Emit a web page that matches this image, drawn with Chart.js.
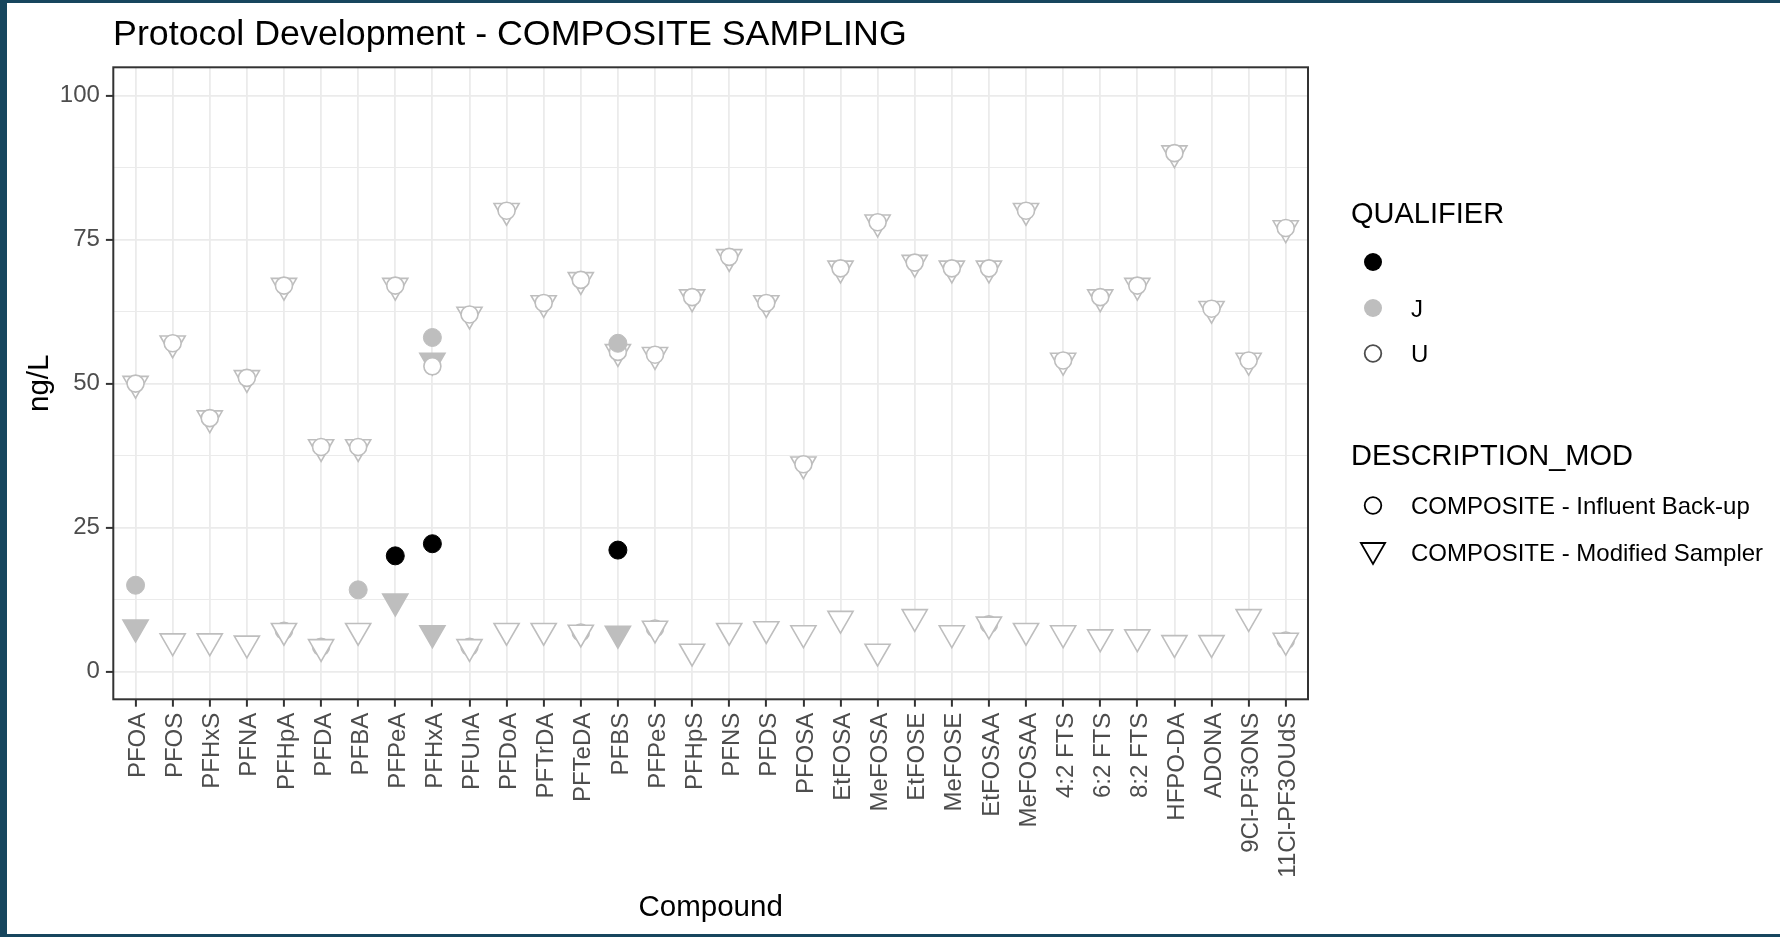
<!DOCTYPE html>
<html><head><meta charset="utf-8">
<script src="https://cdn.jsdelivr.net/npm/chart.js@4.4.0/dist/chart.umd.min.js"></script>
<style>
html,body{margin:0;padding:0;background:#17465E;width:1780px;height:937px;overflow:hidden;font-family:'Liberation Sans',Arial,sans-serif;}
#frame{position:absolute;left:7px;top:3px;width:1773px;height:931px;background:#fff;}
#wrap{position:absolute;left:0;top:0;width:1780px;height:937px;}
.t{position:absolute;white-space:nowrap;color:#000;font-family:'Liberation Sans',Arial,sans-serif;}
#keys{position:absolute;left:1340px;top:240px;}
</style></head><body>
<div id="frame"></div>
<div id="wrap"><canvas id="c" width="1780" height="937" style="width:1780px;height:937px;"></canvas></div>
<div class="t" style="left:113px;top:16px;font-size:35.8px;line-height:35.8px;">Protocol Development - COMPOSITE SAMPLING</div>
<div class="t" style="left:1351px;top:199px;font-size:29px;line-height:29px;">QUALIFIER</div>
<div class="t" style="left:1411px;top:297px;font-size:24px;line-height:24px;">J</div>
<div class="t" style="left:1411px;top:342px;font-size:24px;line-height:24px;">U</div>
<div class="t" style="left:1351px;top:441px;font-size:29px;line-height:29px;">DESCRIPTION_MOD</div>
<div class="t" style="left:1411px;top:494px;font-size:24px;line-height:24px;">COMPOSITE - Influent Back-up</div>
<div class="t" style="left:1411px;top:541px;font-size:24px;line-height:24px;">COMPOSITE - Modified Sampler</div>
<svg id="keys" width="60" height="340" xmlns="http://www.w3.org/2000/svg">
  <circle cx="33" cy="22" r="9" fill="#000"/>
  <circle cx="33" cy="68" r="9" fill="#BEBEBE"/>
  <circle cx="33" cy="113.5" r="8.3" fill="#fff" stroke="#4D4D4D" stroke-width="1.8"/>
  <circle cx="33" cy="265.5" r="8.3" fill="none" stroke="#000" stroke-width="1.8"/>
  <polygon points="20.9,303 45.1,303 33,324" fill="none" stroke="#000" stroke-width="1.8"/>
</svg>
<script>
const compounds = ["PFOA","PFOS","PFHxS","PFNA","PFHpA","PFDA","PFBA","PFPeA",
  "PFHxA","PFUnA","PFDoA","PFTrDA","PFTeDA","PFBS","PFPeS","PFHpS",
  "PFNS","PFDS","PFOSA","EtFOSA","MeFOSA","EtFOSE","MeFOSE","EtFOSAA",
  "MeFOSAA","4:2 FTS","6:2 FTS","8:2 FTS","HFPO-DA","ADONA","9Cl-PF3ONS","11Cl-PF3OUdS"];
const yTicks = [0, 12.5, 25, 37.5, 50, 62.5, 75, 87.5, 100];

// COMPOSITE - Influent Back-up (circles)
const influentU = [50,57,44,51,67,39,39,67,
  53,62,80,64,68,55.5,55,65,
  72,64,36,70,78,71,70,70,
  80,54,65,67,90,63,54,77];
const influentULow = [null,null,null,null,7.1,4.3,null,null,
  null,4.3,null,null,6.8,null,7.5,null,
  null,null,null,null,null,null,null,8.2,
  null,null,null,null,null,null,null,5.4];
const influentJ = [15,null,null,null,null,null,14.2,null,
  58,null,null,null,null,57,null,null,
  null,null,null,null,null,null,null,null,
  null,null,null,null,null,null,null,null];
const influentDetect = [null,null,null,null,null,null,null,20.1,
  22.2,null,null,null,null,21.1,null,null,
  null,null,null,null,null,null,null,null,
  null,null,null,null,null,null,null,null];

// COMPOSITE - Modified Sampler (triangles)
const modifiedU = [50,57,44,51,67,39,39,67,
  null,62,80,64,68,55.5,55,65,
  72,64,36,70,78,71,70,70,
  80,54,65,67,90,63,54,77];
const modifiedULow = [null,5.3,5.3,4.9,7.1,4.3,7.1,null,
  null,4.3,7.1,7.1,6.8,null,7.5,3.5,
  7.1,7.4,6.7,9.2,3.5,9.5,6.7,8.2,
  7.1,6.7,6.0,6.0,5.0,5.0,9.5,5.4];
const modifiedJ = [7.7,null,null,null,null,null,null,12.2,
  6.7,null,null,null,null,6.6,null,null,
  null,null,null,null,null,null,null,null,
  null,null,null,null,null,null,null,null];
const modifiedJHigh = [null,null,null,null,null,null,null,null,
  54,null,null,null,null,null,null,null,
  null,null,null,null,null,null,null,null,
  null,null,null,null,null,null,null,null];

const pts = arr => arr.map((v, i) => v == null ? null : {x: i, y: v}).filter(p => p);
const GREY = '#BEBEBE';
const FONT = "'Liberation Sans', Arial, sans-serif";

function tri(data, fill, order) {
  return {data: pts(data), pointStyle: 'triangle', rotation: 180, pointRadius: 14.5,
    backgroundColor: fill, borderColor: GREY, pointBorderWidth: 1.6, order: order, showLine: false};
}
function circ(data, fill, border, r, bw, order) {
  return {data: pts(data), pointStyle: 'circle', pointRadius: r,
    backgroundColor: fill, borderColor: border, pointBorderWidth: bw, order: order, showLine: false};
}

const panelBorder = {
  id: 'panelBorder',
  afterDraw(chart) {
    const {ctx, chartArea: a} = chart;
    ctx.save();
    ctx.strokeStyle = '#333333';
    ctx.lineWidth = 2;
    ctx.strokeRect(a.left, a.top, a.right - a.left, a.bottom - a.top);
    ctx.restore();
  }
};

new Chart(document.getElementById('c'), {
  type: 'scatter',
  data: {
    datasets: [
      circ(influentDetect, '#000000', '#000000', 9, 1, 0),
      circ(influentJ, GREY, GREY, 9, 1, 0),
      circ(influentU, '#FFFFFF', GREY, 8.5, 1.6, 1),
      tri(modifiedJHigh, GREY, 2),
      tri(modifiedU, '#FFFFFF', 2),
      tri(modifiedJ, GREY, 2),
      tri(modifiedULow, '#FFFFFF', 2),
      circ(influentULow, '#FFFFFF', GREY, 8.5, 1.6, 3)
    ]
  },
  options: {
    responsive: false,
    animation: false,
    events: [],
    layout: {padding: {left: 0, right: 472, top: 67.3, bottom: 0}},
    plugins: {legend: {display: false}, title: {display: false}, tooltip: {enabled: false}},
    scales: {
      x: {
        type: 'linear', min: -0.6, max: 31.6,
        afterBuildTicks: s => { s.ticks = compounds.map((c, i) => ({value: i})); },
        afterFit: s => { s.height = 237.7; },
        ticks: {
          autoSkip: false, minRotation: 90, maxRotation: 90, padding: 6, labelOffset: 3,
          color: '#4D4D4D', font: {family: FONT, size: 24},
          callback: v => compounds[v]
        },
        grid: {color: '#EBEBEB', lineWidth: 1.8, tickLength: 7.4, tickColor: '#333333', tickWidth: 2},
        border: {display: false},
        title: {display: true, text: 'Compound', color: '#000', font: {family: FONT, size: 29.5}, padding: {top: 0, bottom: 11}}
      },
      y: {
        type: 'linear', min: -4.8, max: 104.9,
        afterBuildTicks: s => { s.ticks = yTicks.map(v => ({value: v})); },
        afterFit: s => { s.width = 113.3; },
        ticks: {
          padding: 6, color: '#4D4D4D', font: {family: FONT, size: 24},
          callback: v => (v % 25 === 0 ? String(v) : '')
        },
        grid: {
          color: '#EBEBEB',
          lineWidth: c => (c.tick && c.tick.value % 25 === 0 ? 1.8 : 1.1),
          tickLength: 7.4,
          tickColor: c => (c.tick && c.tick.value % 25 === 0 ? '#333333' : 'rgba(0,0,0,0)'),
          tickWidth: 2
        },
        border: {display: false},
        title: {display: true, text: 'ng/L', color: '#000', font: {family: FONT, size: 29.5}, padding: {top: 22.3, bottom: 0}}
      }
    }
  },
  plugins: [panelBorder]
});
</script>
</body></html>
